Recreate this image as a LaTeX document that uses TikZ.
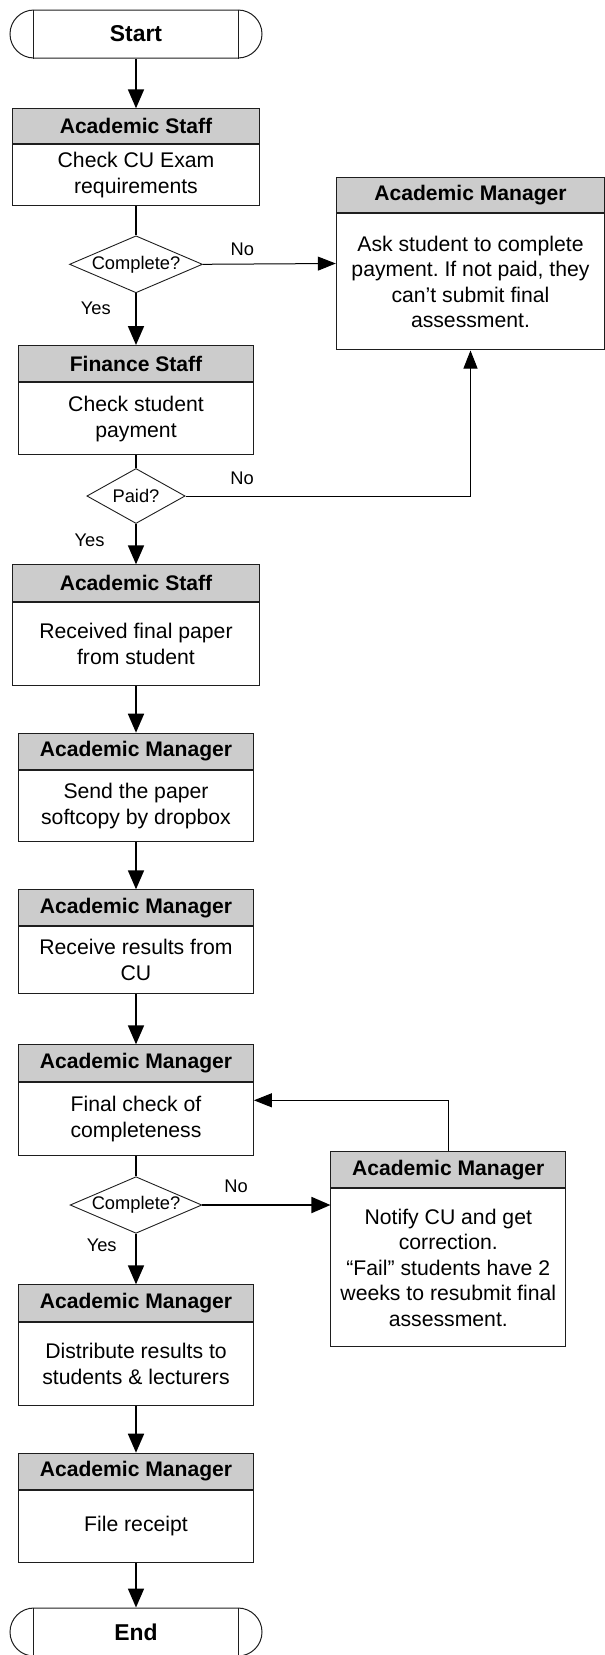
\documentclass[tikz,border=0pt]{standalone}
\usepackage{fontspec}
\setmainfont{Liberation Sans}
\frenchspacing
\usetikzlibrary{arrows.meta,shapes.geometric,fit}
\definecolor{hdrgray}{RGB}{204,204,204}
\definecolor{edge}{RGB}{30,30,30}
\newcommand\mkbox[8]{%
  \node[hdr, minimum width=#4, minimum height=#5, anchor=north] (#1h) at (#2,#3) {#7};
  \node[bdy, minimum width=#4, minimum height=#6, anchor=north] (#1b) at (#1h.south) {#8};
  \node[fit=(#1h)(#1b), inner sep=0pt] (#1) {};
}
\tikzset{
  hdr/.style={draw=edge, line width=1pt, fill=hdrgray, inner sep=0pt,
    font=\bfseries\fontsize{21.1}{25}\selectfont},
  bdy/.style={draw=edge, line width=1pt, fill=white, inner sep=0pt, align=center,
    font=\fontsize{21.2}{25.5}\selectfont},
  term/.style={draw=edge, line width=1pt, rounded corners=24pt, minimum width=252pt,
    minimum height=48pt, inner sep=0pt, font=\bfseries\fontsize{22.9}{26}\selectfont},
  decis/.style={shape=diamond, draw=edge, line width=0.9pt, fill=white, inner sep=0pt,
    font=\fontsize{18.3}{20}\selectfont},
  lbl/.style={inner sep=0pt, font=\fontsize{18.3}{20}\selectfont},
  mainline/.style={draw=black, line width=1.8pt},
  mainarr/.style={draw=black, line width=1.8pt, -{Triangle[length=19pt,width=16pt]}},
  sidearr/.style={draw=black, line width=1pt, -{Triangle[length=18pt,width=14pt]}},
}
\begin{document}
\begin{tikzpicture}[x=1pt,y=-1pt]
\useasboundingbox (0,0) rectangle (605,1655);
% terminals
\node[term] (start) at (136,34) {Start};
\draw[edge, line width=1pt] ([xshift=24pt]start.north west) -- ([xshift=24pt]start.south west)
  ([xshift=-24pt]start.north east) -- ([xshift=-24pt]start.south east);
\node[term] (end) at (136,1632) {End};
\draw[edge, line width=1pt] ([xshift=24pt]end.north west) -- ([xshift=24pt]end.south west)
  ([xshift=-24pt]end.north east) -- ([xshift=-24pt]end.south east);
% process boxes
\mkbox{as1}{136}{108.3}{246.6}{34.4}{61.3}{Academic Staff}{Check CU Exam\\requirements}
\mkbox{fs}{136}{345}{234.4}{36.3}{72}{Finance Staff}{Check student\\payment}
\mkbox{as2}{136}{564.3}{246.6}{36.4}{83.6}{Academic Staff}{Received final paper\\from student}
\mkbox{sd}{136}{732.7}{234.4}{36.3}{71}{Academic Manager}{Send the paper\\softcopy by dropbox}
\mkbox{rc}{136}{889.3}{234.4}{35.7}{67.3}{Academic Manager}{Receive results from\\CU}
\mkbox{fn}{136}{1044.3}{234.4}{36.7}{73.3}{Academic Manager}{Final check of\\completeness}
\mkbox{ds}{136}{1284.3}{234.4}{36.7}{82.7}{Academic Manager}{Distribute results to\\students \& lecturers}
\mkbox{fr}{136}{1452.7}{234.4}{36}{72}{Academic Manager}{File receipt}
\mkbox{am1}{470.5}{176.7}{268}{35.6}{136}{Academic Manager}{Ask student to complete\\payment. If not paid, they\\can’t submit final\\assessment.}
\mkbox{am2}{448.3}{1151}{234.7}{36.3}{157.7}{Academic Manager}{Notify CU and get\\correction.\\“Fail” students have 2\\weeks to resubmit final\\assessment.}
% decisions
\node[decis, minimum width=133pt, minimum height=57pt, aspect=2.33] (d1) at (136,264.3) {Complete?};
\node[decis, minimum width=98.3pt, minimum height=55pt, aspect=1.79] (d2) at (136,496) {Paid?};
\node[decis, minimum width=131.7pt, minimum height=56.6pt, aspect=2.33] (d3) at (136,1205) {Complete?};
% labels
\node[lbl] (no1) at (242.3,249) {No};
\node[lbl] (yes1) at (95.8,308) {Yes};
\node[lbl] (no2) at (242,478) {No};
\node[lbl] (yes2) at (89.5,540) {Yes};
\node[lbl] (no3) at (236,1186) {No};
\node[lbl] (yes3) at (101.7,1245.7) {Yes};
% connectors
\draw[mainarr] (start.south) -- (as1h.north);
\draw[mainline] (as1b.south) -- (d1.north);
\draw[mainarr] (d1.south) -- (fsh.north);
\draw[sidearr] (d1.east) -- (am1.west);
\draw[mainline] (fsb.south) -- (d2.north);
\draw[sidearr] (d2.east) -| (am1.south);
\draw[mainarr] (d2.south) -- (as2h.north);
\draw[mainarr] (as2b.south) -- (sdh.north);
\draw[mainarr] (sdb.south) -- (rch.north);
\draw[mainarr] (rcb.south) -- (fnh.north);
\draw[mainline] (fnb.south) -- (d3.north);
\draw[mainarr] (d3.east) -- (d3.east -| am2b.west);
\draw[sidearr] (am2h.north) |- (fn.east);
\draw[mainarr] (d3.south) -- (dsh.north);
\draw[mainarr] (dsb.south) -- (frh.north);
\draw[mainarr] (frb.south) -- (end.north);
\end{tikzpicture}
\end{document}
